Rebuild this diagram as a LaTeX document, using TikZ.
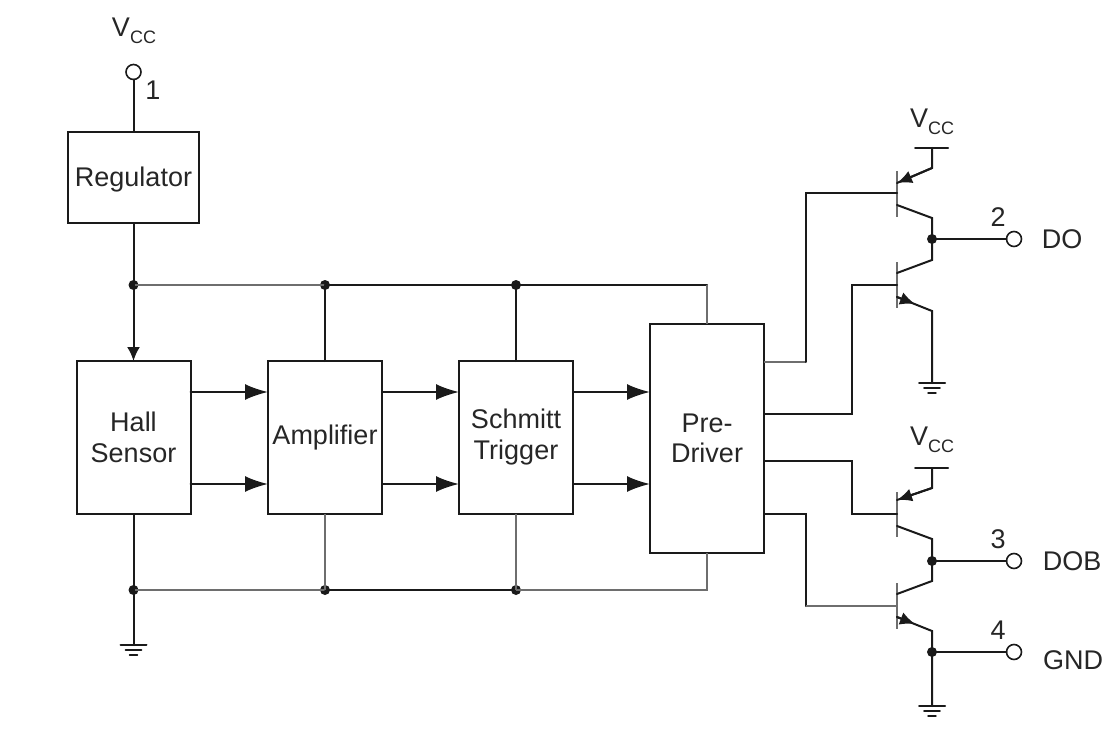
\documentclass[tikz,border=0pt]{standalone}
\usepackage{fontspec}
\setmainfont{Liberation Sans}
\usetikzlibrary{arrows.meta}
\definecolor{ink}{HTML}{1A1A1A}
\definecolor{txt}{HTML}{262626}
\definecolor{pale}{HTML}{6E6E6E}
\tikzset{
  wire/.style={draw=ink,line width=2pt,line cap=round,line join=miter},
  palewire/.style={draw=pale,line width=2pt},
  block/.style={draw=ink,line width=2pt,inner sep=0pt,outer sep=0pt,align=center,text=txt,font=\fontsize{27}{31}\selectfont},
  label/.style={inner sep=0pt,text=txt,font=\fontsize{27}{30}\selectfont},
  flow/.style={wire,-{Latex[length=23pt,width=16pt]}},
  drop/.style={wire,-{Latex[length=14pt,width=13pt]}},
  emit/.style={wire,-{Latex[length=15pt,width=13pt]}},
  dot/.style={circle,fill=ink,inner sep=0pt,minimum size=10pt},
  pin/.style={circle,draw=ink,fill=white,line width=1.6pt,inner sep=0pt,outer sep=0pt,minimum size=15pt},
  bar/.style={draw=pale,line width=2.4pt},
}
\newcommand{\Vcc}{V\raisebox{-7pt}{\fontsize{18}{18}\selectfont CC}}
\newcommand{\earth}[1]{%
  \draw[wire] ([xshift=-13pt]#1) -- ([xshift=13pt]#1);
  \draw[wire,line width=1.6pt] ([xshift=-8pt,yshift=-5pt]#1) -- ([xshift=8pt,yshift=-5pt]#1);
  \draw[wire,line width=1.4pt] ([xshift=-4pt,yshift=-10pt]#1) -- ([xshift=4pt,yshift=-10pt]#1);
}
\begin{document}
\begin{tikzpicture}[x=1pt,y=-1pt]
\useasboundingbox (0,0) rectangle (1105,746);
% blocks
\node[block,minimum width=131pt,minimum height=91pt] (reg) at (133.5,177.5) {\raisebox{-9.5pt}[0pt][0pt]{Regulator}};
\node[block,minimum width=114pt,minimum height=153pt] (hall) at (133.5,437.5) {Hall\\Sensor};
\node[block,minimum width=114pt,minimum height=153pt] (amp) at (325,437.5) {Amplifier};
\node[block,minimum width=114pt,minimum height=153pt] (sch) at (516,437.5) {Schmitt\\Trigger};
\node[block,minimum width=114pt,minimum height=229pt] (pre) at (707,438.5) {\raisebox{-1pt}{Pre-}\\Driver};
% supply pin
\node[pin] (vccpin) at (133.5,72) {};
\node[label] (vcctop) at (134,31) {\Vcc};
\node[label] (n1) at (153,90) {1};
\draw[wire] (vccpin) -- (reg.north);
% rails
\coordinate (railTR) at (pre.north |- 0,285);
\coordinate (railBR) at (pre.south |- 0,590);
\node[dot] (jt0) at (hall.north |- 0,285) {};
\node[dot] (jt1) at (amp.north |- 0,285) {};
\node[dot] (jt2) at (sch.north |- 0,285) {};
\node[dot] (jb0) at (hall.south |- 0,590) {};
\node[dot] (jb1) at (amp.south |- 0,590) {};
\node[dot] (jb2) at (sch.south |- 0,590) {};
\coordinate (g0) at (hall.south |- 0,645);
\draw[palewire] (jt0.center) -- (jt1.center);
\draw[wire] (jt1.center) -- (jt2.center) -- (railTR);
\draw[palewire] (railTR) -- (pre.north);
\draw[palewire] (jb0.center) -- (jb1.center);
\draw[wire] (jb1.center) -- (jb2.center);
\draw[palewire] (jb2.center) -- (railBR) -- (pre.south);
\draw[drop] (reg.south) -- (hall.north);
\draw[wire] (jt1.center) -- (amp.north);
\draw[wire] (jt2.center) -- (sch.north);
\draw[wire] (hall.south) -- (g0);
\draw[palewire] (amp.south) -- (jb1.center);
\draw[palewire] (sch.south) -- (jb2.center);
\earth{g0}
% signal arrows
\foreach \a/\b in {hall/amp,amp/sch,sch/pre}{
  \draw[flow] (\a.east |- 0,392) -- (\b.west |- 0,392);
  \draw[flow] (\a.east |- 0,484) -- (\b.west |- 0,484);
}
% upper pair
\coordinate (qa) at (897,193);
\coordinate (qb) at (897,285);
\coordinate (out1) at (932,239);
\node[dot] (jo1) at (out1) {};
\node[pin] (pin2) at (1014,239) {};
\node[label] (n2) at (998,217) {2};
\node[label] (do) at (1062,239) {DO};
\draw[bar] (897,171) -- (897,217);
\draw[bar] (897,262) -- (897,308);
\draw[palewire] (pre.east |- 0,362) -- (806,362);
\draw[wire] (806,362) -- (806,193) -- (qa);
\draw[wire] (pre.east |- 0,414) -- (852,414) -- (852,285) -- (qb);
\coordinate (vr1) at (932,148);
\draw[wire] (915,148) -- (948,148);
\draw[wire] (vr1) -- (932,168) -- (897,183);
\draw[emit] (932,168) -- (897,183);
\draw[wire] (897,205) -- (932,218) -- (jo1.center) -- (932,260) -- (897,273);
\draw[wire] (jo1.center) -- (pin2);
\draw[wire] (897,297) -- (932,311) -- (932,383);
\draw[emit] (897,297) -- (915,304);
\coordinate (g1) at (932,383);
\earth{g1}
\node[label] (vcc1) at (932,122) {\Vcc};
% lower pair
\coordinate (qc) at (897,514);
\coordinate (qd) at (897,606);
\node[dot] (jo2) at (932,561) {};
\node[dot] (jo3) at (932,652) {};
\node[pin] (pin3) at (1014,561) {};
\node[pin] (pin4) at (1014,652) {};
\node[label] (n3) at (998,539) {3};
\node[label] (n4) at (998,630) {4};
\node[label] (dob) at (1072,561) {DOB};
\node[label] (gnd) at (1073,660) {GND};
\draw[bar] (897,492) -- (897,537);
\draw[bar] (897,583) -- (897,629);
\draw[wire] (pre.east |- 0,461) -- (852,461) -- (852,514) -- (qc);
\draw[wire] (pre.east |- 0,514) -- (806,514) -- (806,606);
\draw[palewire] (806,606) -- (qd);
\draw[wire] (915,468) -- (948,468);
\draw[wire] (932,468) -- (932,488) -- (897,500);
\draw[emit] (932,488) -- (897,500);
\draw[wire] (897,526) -- (932,539) -- (jo2.center) -- (932,581) -- (897,594);
\draw[wire] (jo2.center) -- (pin3);
\draw[wire] (897,617) -- (932,631) -- (jo3.center) -- (932,706);
\draw[emit] (897,617) -- (915,624);
\draw[wire] (jo3.center) -- (pin4);
\coordinate (g2) at (932,706);
\earth{g2}
\node[label] (vcc2) at (932,440) {\Vcc};
\end{tikzpicture}
\end{document}
